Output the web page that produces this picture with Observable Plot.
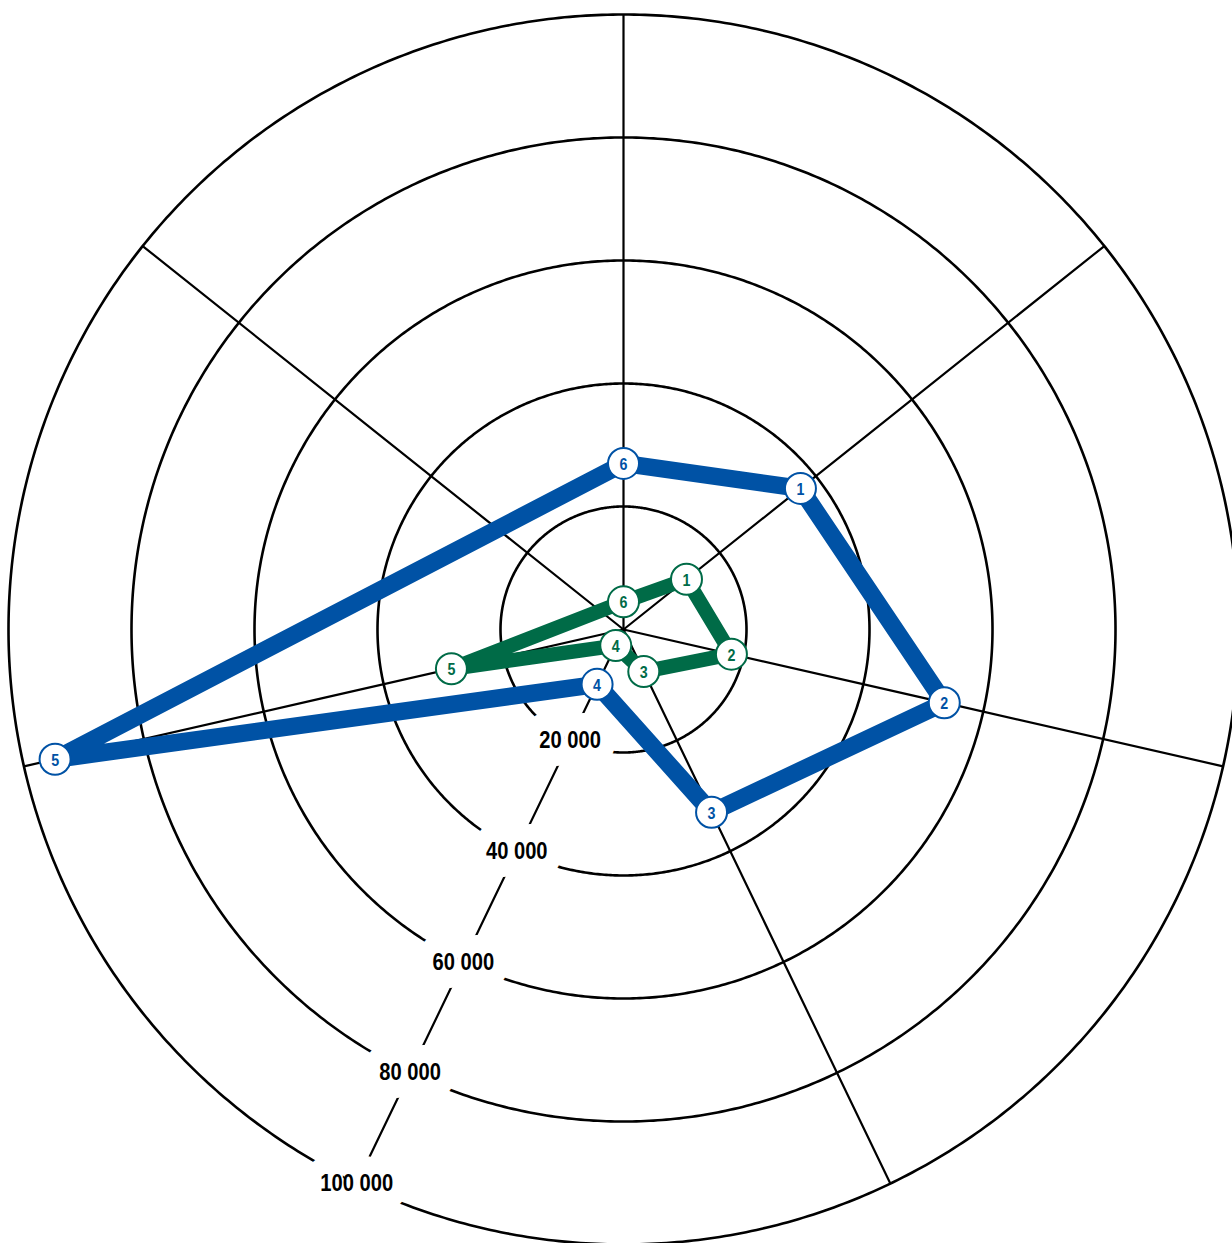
<!DOCTYPE html>
<html>
<head>
<meta charset="utf-8">
<script src="https://cdn.jsdelivr.net/npm/d3@7"></script>
<script src="https://cdn.jsdelivr.net/npm/@observablehq/plot@0.6"></script>
<style>
  html, body { margin: 0; padding: 0; background: #fff; overflow: hidden; }
  #chart svg { display: block; }
</style>
</head>
<body>
<div id="chart"></div>
<script>
// ---- data ----
const spokeCount = 7;                       // number of radial axes
const pointLabels = ["1", "2", "3", "4", "5", "6"];
const pointSpokes = [1, 2, 3, 4, 5, 0];     // spoke on which each numbered point sits
const blueValues  = [36800, 53500, 33000, 9900, 94800, 27000];
const greenValues = [13100, 18000, 7600, 2900, 28700, 4500];
const ringValues  = [20000, 40000, 60000, 80000, 100000];
const ringLabels  = ["20 000", "40 000", "60 000", "80 000", "100 000"];
const labelSpoke  = 4;
const maxValue    = 100000;

// ---- styling ----
const BLUE = "#0052a5";
const GREEN = "#006b47";
const FONT = "'Liberation Sans', Arial, sans-serif";

// polar helpers (longitude = angle, latitude = 90 - value)
const DEG = 50;
const lon = i => 180 - i * 360 / spokeCount;
const lat = v => 90 - (v / maxValue) * DEG;
const ring = v => d3.geoCircle().center([0, 90]).radius((v / maxValue) * DEG).precision(0.5)();

const makePoints = values => values.map((v, i) => ({label: pointLabels[i], spoke: pointSpokes[i], value: v}));
const blue = makePoints(blueValues);
const green = makePoints(greenValues);

function seriesMarks(data, color, width) {
  return [
    Plot.line(data, {
      x: d => lon(d.spoke), y: d => lat(d.value),
      curve: "linear-closed", stroke: color, strokeWidth: width,
      strokeLinejoin: "round"
    }),
    Plot.dot(data, {
      x: d => lon(d.spoke), y: d => lat(d.value),
      r: 15.5, fill: "white", stroke: color, strokeWidth: 2
    }),
    Plot.text(data, {
      x: d => lon(d.spoke), y: d => lat(d.value), text: "label",
      fill: color, fontSize: 17, fontWeight: "bold", dy: 1
    })
  ];
}

const chart = Plot.plot({
  width: 1238,
  height: 1244,
  marginLeft: 8,
  marginTop: 14,
  marginRight: 0,
  marginBottom: 0,
  style: {maxWidth: "none", fontFamily: FONT, background: "white", overflow: "visible"},
  projection: {
    type: "azimuthal-equidistant",
    rotate: [0, -90],
    domain: ring(maxValue),
    clip: false
  },
  marks: [
    Plot.geo(ringValues, {geometry: ring, stroke: "black", strokeWidth: 2.6, fill: "none"}),
    Plot.link(d3.range(spokeCount), {
      x1: lon, y1: 90, x2: lon, y2: lat(maxValue),
      stroke: "black", strokeWidth: 2.2
    }),
    Plot.text(ringValues, {
      x: lon(labelSpoke), y: lat, text: (d, i) => ringLabels[i],
      fill: "black", fontSize: 24, fontWeight: "bold",
      stroke: "white", strokeWidth: 36, strokeLinejoin: "round", paintOrder: "stroke"
    }),
    ...seriesMarks(blue, BLUE, 17.5),
    ...seriesMarks(green, GREEN, 14.5)
  ]
});
// condense the text horizontally (narrow type as in the original)
d3.select(chart).selectAll("text").each(function () {
  const t = this.getAttribute("transform") || "";
  this.setAttribute("transform", t + " scale(0.84,1)");
});
document.getElementById("chart").append(chart);
</script>
</body>
</html>
